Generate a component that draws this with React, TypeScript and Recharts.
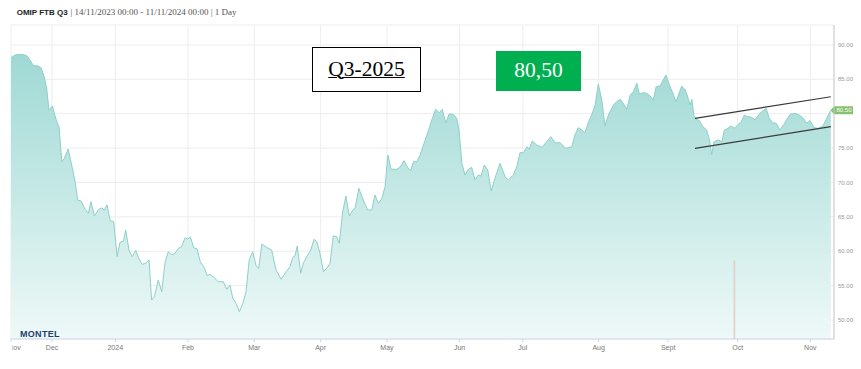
import React from 'react';
import { ComposedChart, Area, Bar, XAxis, YAxis, CartesianGrid, ReferenceLine } from 'recharts';

// trading-day index since 14/11/2023
const dayIdx = [
  0.0, 1.3, 3.4, 5.0, 6.0, 7.1, 8.6, 9.5, 10.5, 11.3, 12.0, 13.1, 13.7, 14.5, 15.2, 16.1, 16.9, 18.1, 19.2, 20.3,
  21.1, 22.2, 23.4, 24.5, 25.3, 26.4, 27.6, 28.7, 29.5, 30.4, 31.4, 32.5, 33.6, 34.5, 35.6, 36.3, 37.4, 38.4, 39.5, 40.5,
  41.6, 42.6, 43.7, 44.5, 45.4, 46.6, 47.7, 48.8, 49.8, 50.9, 51.9, 53.0, 54.0, 55.1, 55.9, 56.8, 57.8, 58.9, 59.9, 61.0,
  62.1, 63.0, 64.0, 65.6, 67.2, 68.3, 69.3, 70.2, 71.2, 72.3, 73.4, 74.4, 75.4, 76.5, 77.6, 78.4, 79.4, 80.9, 82.5, 83.9,
  85.5, 87.1, 88.3, 89.2, 89.9, 90.6, 91.7, 92.5, 93.6, 94.9, 95.9, 96.8, 97.8, 98.9, 99.9, 101.0, 102.0, 103.1, 103.9, 105.0,
  106.0, 107.1, 108.2, 108.9, 110.1, 111.5, 112.9, 114.2, 115.2, 116.3, 117.4, 118.4, 119.3, 120.3, 122.1, 123.1, 124.4, 125.5, 126.5, 127.4,
  128.4, 129.5, 131.1, 132.1, 133.2, 134.4, 135.6, 136.5, 137.6, 138.7, 140.0, 141.1, 141.8, 142.7, 143.7, 144.8, 145.8, 146.9, 147.9, 148.8,
  149.8, 150.9, 152.0, 153.0, 154.8, 156.4, 157.4, 159.0, 160.1, 161.1, 162.2, 163.3, 164.0, 165.0, 166.4, 168.0, 169.3, 170.9, 172.2, 173.8,
  175.6, 177.5, 178.5, 179.6, 180.7, 181.7, 182.8, 183.8, 184.9, 185.9, 187.0, 188.0, 189.1, 190.7, 191.7, 192.8, 193.8, 194.9, 196.0, 197.0,
  198.1, 198.9, 200.2, 201.2, 202.3, 203.3, 204.2, 205.4, 206.3, 207.3, 208.4, 209.5, 210.5, 211.6, 212.3, 213.4, 214.1, 214.9, 215.5, 216.2,
  217.1, 217.9, 219.0, 220.2, 221.1, 221.8, 222.5, 223.9, 225.0, 225.8, 226.9, 227.9, 229.0, 230.0, 231.1, 232.1, 233.2, 234.5, 235.5, 236.6,
  237.6, 239.0, 240.0, 241.1, 242.2, 243.4, 244.5, 245.6, 246.6, 248.2, 249.5, 250.8, 251.9, 252.9, 254.2, 255.6, 257.0, 258.2, 259.5,
];

const price = [
  88.15, 88.54, 88.64, 88.44, 87.81, 86.98, 86.94, 86.69, 85.38, 83.70, 80.54, 81.12, 80.06, 78.84, 78.11, 73.02, 73.52, 74.87, 72.54, 70.11,
  67.45, 67.31, 66.14, 65.52, 67.21, 65.13, 66.00, 66.33, 65.96, 66.73, 64.44, 64.30, 59.21, 61.30, 61.49, 63.09, 60.04, 59.21, 60.14, 58.87,
  58.10, 58.25, 58.73, 52.91, 53.39, 55.82, 54.12, 58.48, 59.94, 59.46, 59.70, 60.43, 60.66, 61.97, 61.78, 62.07, 60.52, 60.33, 58.48, 57.75,
  56.45, 56.65, 56.30, 55.57, 55.57, 54.47, 55.09, 53.16, 52.43, 51.21, 52.43, 54.12, 58.73, 59.94, 57.86, 57.52, 61.05, 60.57, 60.18, 57.27,
  55.92, 57.03, 57.75, 59.12, 59.31, 60.76, 56.79, 58.25, 59.21, 60.18, 61.74, 61.39, 59.70, 57.03, 57.52, 58.25, 62.22, 62.12, 61.16, 65.75,
  68.03, 65.13, 66.00, 66.25, 69.15, 67.45, 66.00, 66.00, 68.18, 66.97, 67.70, 69.39, 74.00, 71.92, 71.92, 72.21, 73.17, 72.21, 71.71, 73.02,
  73.02, 74.00, 76.18, 77.53, 79.09, 80.64, 80.15, 80.64, 78.69, 79.96, 79.91, 79.33, 77.63, 72.79, 71.09, 71.92, 72.21, 70.36, 71.09, 70.94,
  72.54, 71.82, 68.76, 70.36, 72.79, 70.84, 70.36, 71.09, 72.30, 74.33, 74.33, 75.20, 74.83, 76.03, 75.45, 75.12, 75.78, 76.66, 75.78, 75.78,
  74.97, 75.20, 76.90, 77.97, 77.63, 77.24, 78.84, 79.81, 81.27, 84.32, 81.99, 78.21, 79.81, 81.27, 81.75, 82.10, 81.51, 80.64, 82.72, 83.20,
  84.42, 82.87, 83.06, 82.97, 82.58, 81.99, 83.93, 84.03, 84.80, 85.63, 84.18, 82.97, 81.75, 83.20, 84.03, 83.45, 82.58, 81.27, 82.10, 79.57,
  79.19, 78.98, 78.11, 77.63, 76.18, 74.00, 75.93, 76.18, 75.93, 77.63, 77.88, 78.21, 77.88, 78.36, 78.84, 79.81, 79.57, 79.48, 79.09, 79.81,
  80.29, 80.79, 79.33, 78.69, 78.61, 77.63, 78.36, 79.19, 79.91, 80.06, 79.81, 79.33, 78.61, 78.98, 77.97, 77.88, 78.21, 79.33, 80.50,
];

const volDay = [229.0];
const volume = [25];

const monthTicks = [0, 13, 33, 56, 77, 98, 119, 142, 162, 186, 208, 230, 253];
const monthLabels = ['Nov', 'Dec', '2024', 'Feb', 'Mar', 'Apr', 'May', 'Jun', 'Jul', 'Aug', 'Sept', 'Oct', 'Nov'];
const priceTicks = [50, 55, 60, 65, 70, 75, 80, 85, 90];
const hiddenTickLabels = [80]; // covered by the last-price flag in the reference
const lastPrice = 80.5;

const upperChannel = [
  { x: 216.5, y: 79.33 },
  { x: 259.5, y: 82.47 },
];
const lowerChannel = [
  { x: 216.5, y: 74.97 },
  { x: 259.5, y: 78.11 },
];

const titleMain = 'OMIP FTB Q3';
const titleRest = '| 14/11/2023 00:00 - 11/11/2024 00:00 | 1 Day';
const contractLabel = 'Q3-2025';
const priceLabel = '80,50';

const data: any[] = dayIdx.map((d, i) => ({ d, price: price[i] }));
volDay.forEach((d, i) => {
  const hit = data.find((p) => p.d === d);
  if (hit) hit.vol = volume[i];
  else data.push({ d, vol: volume[i] });
});
data.sort((a, b) => a.d - b.d);

const SANS = '"Liberation Sans", Arial, sans-serif';
const SERIF = '"Liberation Serif", "Times New Roman", serif';

const MonthTick = (props: any) => {
  const { x, y, payload } = props;
  const i = monthTicks.indexOf(payload.value);
  const label = i >= 0 ? monthLabels[i] : '';
  if (i === 0) {
    return (
      <g>
        <defs>
          <clipPath id="firstTickClip">
            <rect x={x + 1.5} y={y - 5} width={40} height={20} />
          </clipPath>
        </defs>
        <text x={x + 3.5} y={y + 6} textAnchor="middle" fontSize={7} fill="#777" fontFamily={SANS} clipPath="url(#firstTickClip)">
          {label}
        </text>
      </g>
    );
  }
  return (
    <text x={x} y={y + 6} textAnchor="middle" fontSize={7} fill="#777" fontFamily={SANS}>
      {label}
    </text>
  );
};

const PriceFlag = (props: any) => {
  const { viewBox } = props;
  if (!viewBox) return null;
  const x = viewBox.x + viewBox.width;
  const y = viewBox.y;
  return (
    <g>
      <path d={`M${x - 3.5},${y} L${x},${y - 4} L${x + 19},${y - 4} L${x + 19},${y + 4} L${x},${y + 4} Z`} fill="#88c070" />
      <text x={x + 2.5} y={y + 2.2} fontSize={6} fill="#ffffff" fontFamily={SANS}>
        {lastPrice.toFixed(2)}
      </text>
    </g>
  );
};

export default function App() {
  return (
    <div style={{ position: 'relative', width: 861, height: 369, background: '#fff' }}>
      <style>{`body{margin:0;}`}</style>
      <ComposedChart
        width={861}
        height={369}
        data={data}
        margin={{ top: 25, right: 0, bottom: 10, left: 11 }}
      >
        <defs>
          <linearGradient id="areaGrad" x1="0" y1="0" x2="0" y2="1">
            <stop offset="0%" stopColor="#9fd9d4" stopOpacity={1} />
            <stop offset="100%" stopColor="#eef9f8" stopOpacity={1} />
          </linearGradient>
        </defs>
        <CartesianGrid stroke="#ededed" strokeWidth={1} />
        <XAxis
          dataKey="d"
          type="number"
          domain={[0, 260.5]}
          ticks={monthTicks}
          interval={0}
          tick={<MonthTick />}
          tickSize={3}
          tickLine={{ stroke: '#ccd6eb' }}
          axisLine={{ stroke: '#ccd6eb' }}
          height={20}
          allowDataOverflow
        />
        <YAxis
          orientation="right"
          type="number"
          domain={[47.24, 92.9]}
          ticks={priceTicks}
          interval={0}
          tickFormatter={(v: number) => (hiddenTickLabels.includes(v) ? '' : v.toFixed(2))}
          tick={{ fontSize: 6, fill: '#999', fontFamily: SANS }}
          tickLine={false}
          tickSize={2}
          tickMargin={2}
          axisLine={{ stroke: '#cccccc' }}
          width={27}
          allowDataOverflow
        />
        <YAxis yAxisId="vol" hide domain={[0, 100]} />
        <Bar yAxisId="vol" dataKey="vol" barSize={3} fill="#e3cfcf" isAnimationActive={false} />
        <Area
          type="linear"
          dataKey="price"
          stroke="#8dd0c9"
          strokeWidth={1}
          fill="url(#areaGrad)"
          fillOpacity={1}
          connectNulls
          dot={false}
          activeDot={false}
          isAnimationActive={false}
        />
        <ReferenceLine segment={upperChannel} stroke="#3a3a3a" strokeWidth={1.2} ifOverflow="visible" />
        <ReferenceLine segment={lowerChannel} stroke="#3a3a3a" strokeWidth={1.2} ifOverflow="visible" />
        <ReferenceLine y={lastPrice} stroke="none" ifOverflow="visible" label={<PriceFlag />} />
      </ComposedChart>

      <svg width={861} height={369} style={{ position: 'absolute', left: 0, top: 0, pointerEvents: 'none' }}>
        <text x={16.7} y={15} fontSize={8} fontWeight="bold" fill="#222" fontFamily={SANS}>
          {titleMain}
        </text>
        <text x={70.5} y={15} fontSize={9} fill="#555" fontFamily={SERIF}>
          {titleRest}
        </text>
        <text x={20} y={337} fontSize={9} fontWeight="bold" fill="#1e3d73" fontFamily={SANS} letterSpacing={0.3}>
          MONTEL
        </text>
      </svg>

      <div
        style={{
          position: 'absolute',
          left: 312,
          top: 47,
          width: 109,
          height: 45,
          boxSizing: 'border-box',
          border: '1.5px solid #000',
          background: '#fff',
          display: 'flex',
          alignItems: 'center',
          justifyContent: 'center',
          fontFamily: SERIF,
          fontSize: 21.5,
          color: '#000',
          textDecoration: 'underline',
          textDecorationThickness: 1,
          lineHeight: 1,
        }}
      >
        {contractLabel}
      </div>
      <div
        style={{
          position: 'absolute',
          left: 496,
          top: 51,
          width: 85,
          height: 40,
          background: '#00b050',
          display: 'flex',
          alignItems: 'center',
          justifyContent: 'center',
          fontFamily: SERIF,
          fontSize: 21.5,
          color: '#fff',
          lineHeight: 1,
        }}
      >
        {priceLabel}
      </div>
    </div>
  );
}
